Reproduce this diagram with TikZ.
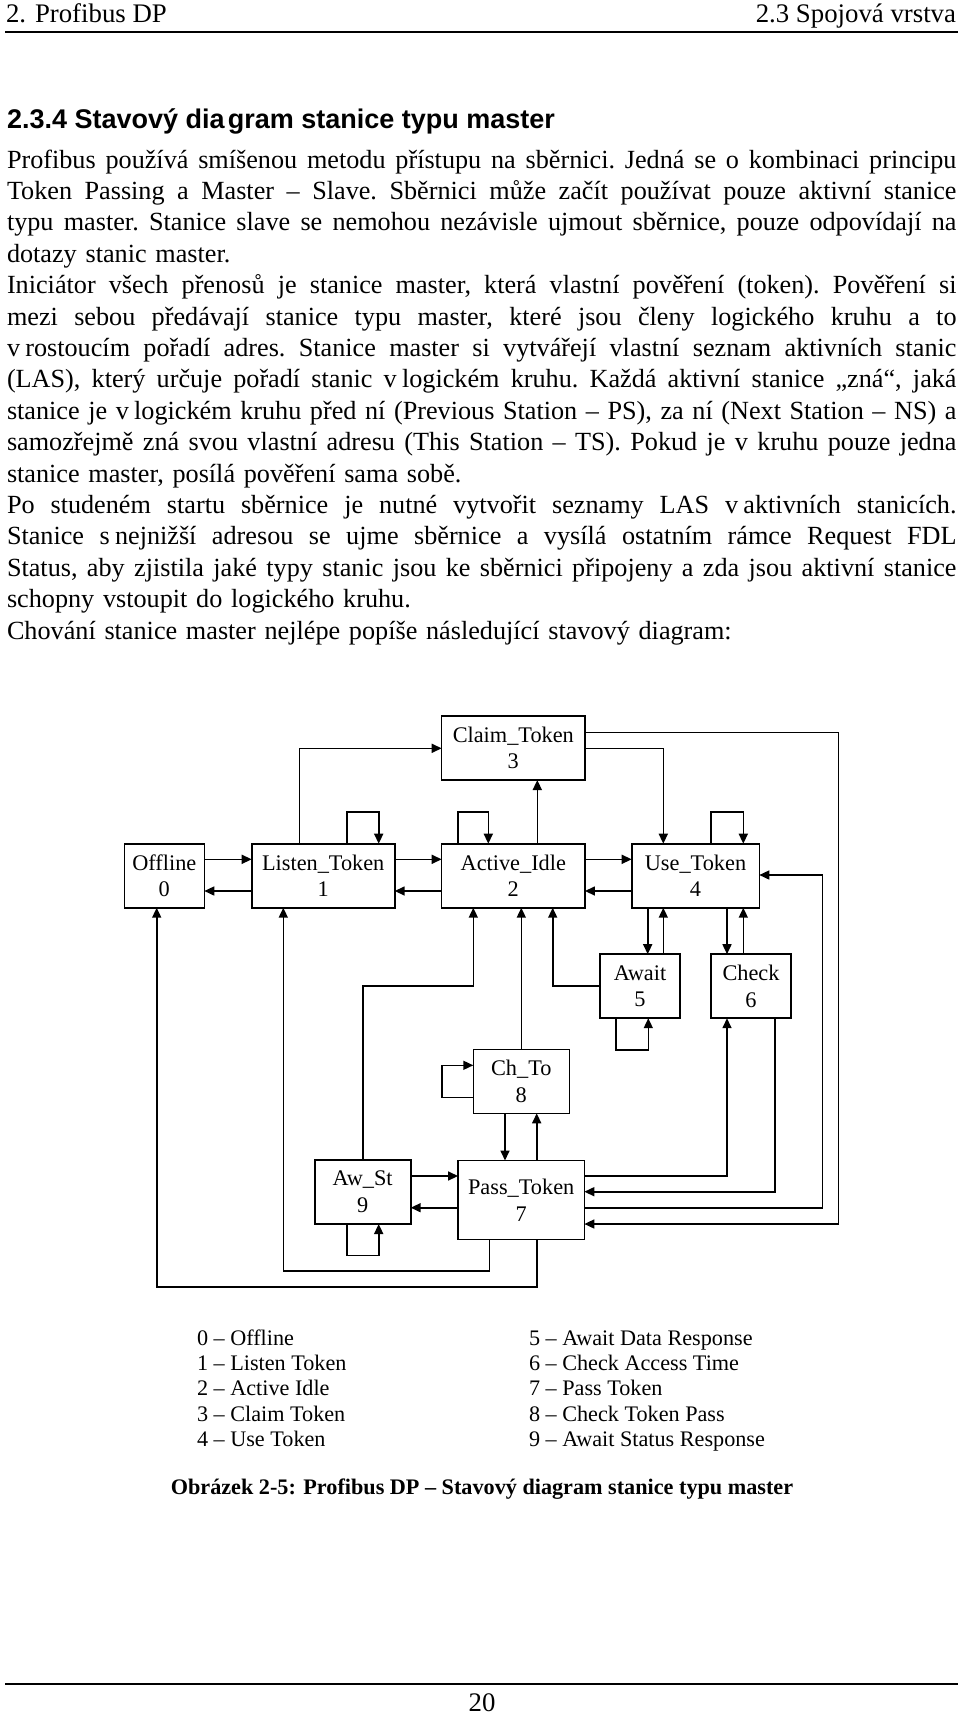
\documentclass[tikz,border=0pt]{standalone}
\usepackage{fontspec}
\setmainfont{Liberation Serif}
\newfontfamily\headfont{Liberation Sans}
\usetikzlibrary{arrows.meta}
\newcommand\jl[1]{\leavevmode\hbox to 949.5pt{\spaceskip=.25em plus 1em minus .05em\xspaceskip=\spaceskip #1}}

\begin{document}
\begin{tikzpicture}[x=1pt,y=-1pt,line width=1.6pt,>={Triangle[length=10pt,width=9pt]},
every node/.style={inner sep=0pt, outer sep=0pt},
state/.style={draw, align=center, font=\fontsize{22.3}{26.7}\selectfont, minimum height=64pt},
leg/.style={anchor=base west, font=\fontsize{22.2}{25.4}\selectfont}]
\useasboundingbox (0,0) rectangle (960,1714);
\node[anchor=base west, font=\fontsize{26.8}{31}\selectfont] (hl) at (6,22.7) {2. Profibus DP};
\node[anchor=base east, font=\fontsize{26.8}{31}\selectfont] (hr) at (956,22.7) {2.3 Spojová vrstva};
\draw[line width=2pt] (5,31.5) -- (958,31.5);
\node[anchor=base west, font=\headfont\bfseries\fontsize{27}{30}\selectfont] (ttl) at (7,128.3) {2.3.4 Stavový dia\kern.12em gram stanice typu master};
\node[anchor=base west, text width=949.5pt, font=\fontsize{26.2}{31.4}\selectfont\frenchspacing] (txt) at (7,168) {%
\jl{Profibus používá smíšenou metodu přístupu na sběrnici. Jedná se o kombinaci principu}\\
\jl{Token Passing a Master – Slave. Sběrnici může začít používat pouze aktivní stanice}\\
\jl{typu master. Stanice slave se nemohou nezávisle ujmout sběrnice, pouze odpovídají na}\\
dotazy stanic master.\\
\jl{Iniciátor všech přenosů je stanice master, která vlastní pověření (token). Pověření si}\\
\jl{mezi sebou předávají stanice typu master, které jsou členy logického kruhu a to}\\
\jl{v\kern.2em rostoucím pořadí adres. Stanice master si vytvářejí vlastní seznam aktivních stanic}\\
\jl{(LAS), který určuje pořadí stanic v\kern.2em logickém kruhu. Každá aktivní stanice „zná“, jaká}\\
\jl{stanice je v\kern.2em logickém kruhu před ní (Previous Station – PS), za ní (Next Station – NS) a}\\
\jl{samozřejmě zná svou vlastní adresu (This Station – TS). Pokud je v kruhu pouze jedna}\\
stanice master, posílá pověření sama sobě.\\
\jl{Po studeném startu sběrnice je nutné vytvořit seznamy LAS v\kern.2em aktivních stanicích.}\\
\jl{Stanice s\kern.2em nejnižší adresou se ujme sběrnice a vysílá ostatním rámce Request FDL}\\
\jl{Status, aby zjistila jaké typy stanic jsou ke sběrnici připojeny a zda jsou aktivní stanice}\\
schopny vstoupit do logického kruhu.\\
Chování stanice master nejlépe popíše následující stavový diagram:};
\node[state, minimum width=80pt] (off) at (164.3,875.7) {Offline\\0};
\node[state, minimum width=143pt] (lis) at (323.2,875.7) {Listen\_Token\\1};
\node[state, minimum width=143.3pt] (act) at (513.3,875.7) {Active\_Idle\\2};
\node[state, minimum width=127.6pt] (use) at (695.5,875.7) {Use\_Token\\4};
\node[state, minimum width=143.3pt] (clm) at (513.3,748) {Claim\_Token\\3};
\node[state, minimum width=80pt] (awt) at (640,986.2) {Await\\5};
\node[state, minimum width=80pt] (chk) at (751,986.2) {Check\\6};
\node[state, minimum width=96pt] (cht) at (521.3,1081.3) {Ch\_To\\8};
\node[state, minimum width=96pt] (aws) at (362.7,1192) {Aw\_St\\9};
\node[state, minimum width=126.3pt, minimum height=79pt] (pas) at (521.2,1200) {Pass\_Token\\7};
\foreach \a/\b in {off/lis,lis/act,act/use} {
\draw[->] (\a.east |- 0,859.3) -- (\b.west |- 0,859.3);
\draw[->] (\b.west |- 0,891) -- (\a.east |- 0,891);
}
\foreach \n/\p/\q in {lis/346.7/378.7,act/457.7/488.3,use/711/743.3}
\draw[->] (\n.north -| \p,0) -- ++(0,-32) -| (\n.north -| \q,0);
\draw[->] (lis.north -| 299.3,0) |- (clm.west |- 0,748.3);
\draw[->] (act.north -| 537.3,0) -- (clm.south -| 537.3,0);
\draw[->] (clm.east |- 0,748.3) -| (use.north -| 663.3,0);
\draw[->] (clm.east |- 0,732.3) -| (838.3,1224) -- (pas.east |- 0,1224);
\draw[->] (pas.east |- 0,1207.7) -| (822.3,875) -- (use.east |- 0,875);
\draw[->] (pas.east |- 0,1176) -| (chk.south -| 727,0);
\draw[->] (chk.south -| 775,0) |- (pas.east |- 0,1191.7);
\draw[->] (use.south -| 647.7,0) -- (awt.north -| 647.7,0);
\draw[->] (awt.north -| 663.3,0) -- (use.south -| 663.3,0);
\draw[->] (use.south -| 727,0) -- (chk.north -| 727,0);
\draw[->] (chk.north -| 743.3,0) -- (use.south -| 743.3,0);
\draw[->] (awt.west) -| (act.south -| 552.7,0);
\draw[->] (awt.south -| 616,0) -- ++(0,32) -| (awt.south -| 648.3,0);
\draw[->] (cht.north) -- (act.south -| cht.north);
\draw[->] (cht.west |- 0,1097.3) -- ++(-31.6,0) |- (cht.west |- 0,1065.3);
\draw[->] (cht.south -| 505,0) -- (pas.north -| 505,0);
\draw[->] (pas.north -| 536.7,0) -- (cht.south -| 536.7,0);
\draw[->] (aws.north) |- (473.3,986) -- (act.south -| 473.3,0);
\draw[->] (aws.east |- 0,1176) -- (pas.west |- 0,1176);
\draw[->] (pas.west |- 0,1207.7) -- (aws.east |- 0,1207.7);
\draw[->] (aws.south -| 346.7,0) -- ++(0,31.3) -| (aws.south -| 378.7,0);
\draw[->] (pas.south -| 489.3,0) |- (283.3,1270.7) -- (lis.south -| 283.3,0);
\draw[->] (pas.south -| 536.7,0) |- (156.7,1286.7) -- (off.south -| 156.7,0);
\foreach \t [count=\i from 0] in {Offline,Listen Token,Active Idle,Claim Token,Use Token}
\node[leg] (la\i) at (197,{1345+25.4*\i}) {\i\ – \t};
\foreach \t [count=\i from 5] in {Await Data Response,Check Access Time,Pass Token,Check Token Pass,Await Status Response}
\node[leg] (lb\i) at (529,{1345+25.4*(\i-5)}) {\i\ – \t};
\node[anchor=base, font=\bfseries\fontsize{22.2}{26}\selectfont] (cap) at (482,1494) {Obrázek 2-5: Profibus DP – Stavový diagram stanice typu master};
\draw[line width=2pt] (5,1684) -- (958,1684);
\node[anchor=base, font=\fontsize{26.8}{31}\selectfont] (pg) at (482,1711.5) {20};
\end{tikzpicture}
\end{document}
